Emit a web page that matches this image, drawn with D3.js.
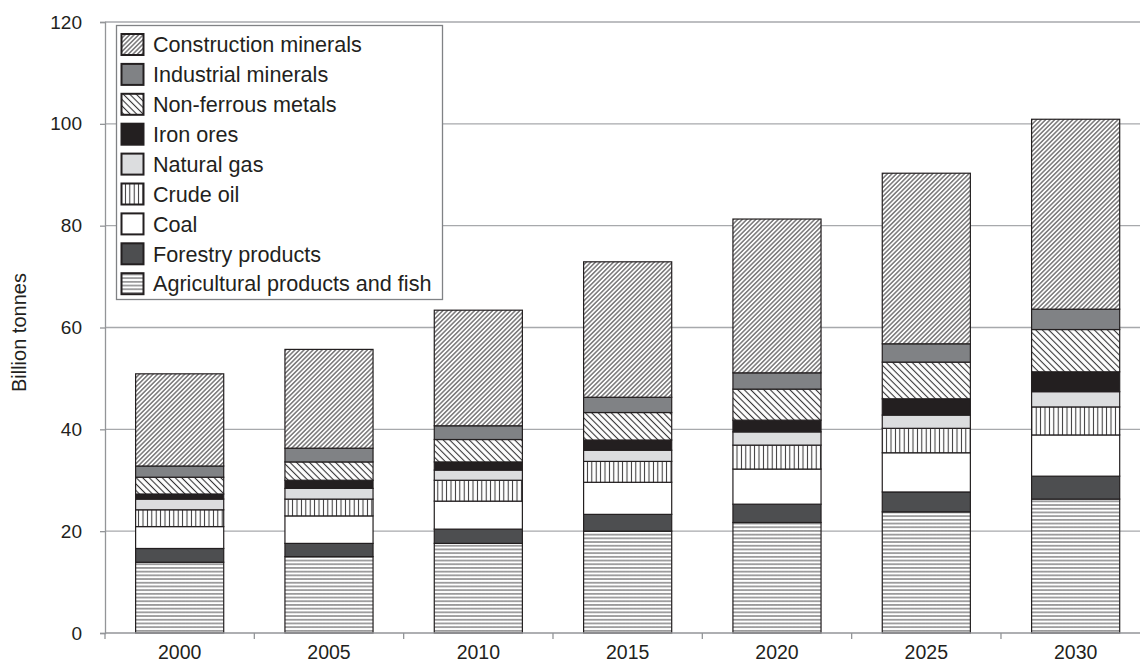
<!DOCTYPE html>
<html>
<head>
<meta charset="utf-8">
<script src="https://cdn.jsdelivr.net/npm/d3@7"></script>
<style>
  body { margin: 0; background: #fff; }
  text { font-family: "Liberation Sans", Arial, Helvetica, sans-serif; fill: #231f20; }
</style>
</head>
<body>
<svg id="chart" width="1140" height="664"></svg>
<script>
// ---- data ----
const years = ["2000", "2005", "2010", "2015", "2020", "2025", "2030"];
const seriesNames = [
  "Agricultural products and fish",
  "Forestry products",
  "Coal",
  "Crude oil",
  "Natural gas",
  "Iron ores",
  "Non-ferrous metals",
  "Industrial minerals",
  "Construction minerals"
];
const agri         = [13.9, 15.0, 17.6, 20.0, 21.7, 23.8, 26.3];
const forestry     = [2.7, 2.6, 2.8, 3.3, 3.6, 3.9, 4.5];
const coal         = [4.3, 5.4, 5.5, 6.3, 6.9, 7.7, 8.1];
const crudeOil     = [3.3, 3.3, 4.1, 4.1, 4.7, 4.8, 5.5];
const naturalGas   = [2.1, 2.1, 2.0, 2.2, 2.6, 2.6, 3.0];
const ironOres     = [1.0, 1.6, 1.6, 2.0, 2.3, 3.2, 3.9];
const nonFerrous   = [3.3, 3.6, 4.4, 5.4, 6.1, 7.2, 8.3];
const industrial   = [2.2, 2.7, 2.7, 3.0, 3.2, 3.6, 4.0];
const construction = [18.1, 19.4, 22.7, 26.6, 30.2, 33.5, 37.3];
const yTicks = [0, 20, 40, 60, 80, 100, 120];
const yLabel = "Billion tonnes";

const seriesValues = [agri, forestry, coal, crudeOil, naturalGas, ironOres, nonFerrous, industrial, construction];

// ---- build table ----
const table = years.map((y, i) => {
  const row = { year: y };
  seriesNames.forEach((s, k) => row[s] = seriesValues[k][i]);
  return row;
});
const stacked = d3.stack().keys(seriesNames)(table);

// ---- fills ----
const fills = {
  "Agricultural products and fish": "url(#pHoriz)",
  "Forestry products": "#4d4e50",
  "Coal": "#ffffff",
  "Crude oil": "url(#pVert)",
  "Natural gas": "#dcdddf",
  "Iron ores": "#231f20",
  "Non-ferrous metals": "url(#pBack)",
  "Industrial minerals": "#808285",
  "Construction minerals": "url(#pFwd)"
};

const svg = d3.select("#chart");
const defs = svg.append("defs");

function linePattern(id, size, rotate, color, sw) {
  const p = defs.append("pattern")
    .attr("id", id).attr("patternUnits", "userSpaceOnUse")
    .attr("width", size).attr("height", size)
    .attr("patternTransform", `rotate(${rotate})`);
  p.append("rect").attr("width", size).attr("height", size).attr("fill", "#fff");
  p.append("line").attr("x1", size / 2).attr("y1", 0).attr("x2", size / 2).attr("y2", size)
    .attr("stroke", color).attr("stroke-width", sw);
}
linePattern("pFwd", 3.2, 45, "#333234", 1.0);
linePattern("pBack", 4.6, -45, "#333234", 1.1);
linePattern("pVert", 4.4, 0, "#333234", 1.0);
linePattern("pHoriz", 3.7, 90, "#333234", 0.9);

// ---- scales ----
const x = d3.scaleBand().domain(years).range([105, 105 + 7 * 149.33])
  .paddingInner(0.41).paddingOuter(0.205);
const y = d3.scaleLinear().domain([0, 120]).range([633, 22]);

// gridlines
svg.append("g").selectAll("line").data(yTicks.filter(d => d > 0)).join("line")
  .attr("x1", 105).attr("x2", 1140)
  .attr("y1", d => y(d)).attr("y2", d => y(d))
  .attr("stroke", "#a7a9ac").attr("stroke-width", 1.3);

// y axis
const yAxis = svg.append("g").attr("transform", "translate(105,0)")
  .call(d3.axisLeft(y).tickValues(yTicks).tickSize(5).tickPadding(18));
yAxis.select(".domain").attr("stroke", "#939598").attr("stroke-width", 1.3);
yAxis.selectAll(".tick line").attr("stroke", "#939598").attr("stroke-width", 1.3);
yAxis.selectAll(".tick text").style("font-size", "19px").style("font-family", "Liberation Sans, Arial, sans-serif").attr("fill", "#231f20");

// bars
const step = x.step();
svg.append("g").selectAll("g").data(stacked).join("g")
  .attr("fill", d => fills[d.key])
  .selectAll("rect").data(d => d).join("rect")
  .attr("x", d => x(d.data.year))
  .attr("width", x.bandwidth())
  .attr("y", d => y(d[1]))
  .attr("height", d => y(d[0]) - y(d[1]))
  .attr("stroke", "#231f20").attr("stroke-width", 1.2);

// x axis
const xAxisG = svg.append("g").attr("transform", "translate(0,633)");
xAxisG.append("line").attr("x1", 105).attr("x2", 1140).attr("y1", 0).attr("y2", 0)
  .attr("stroke", "#939598").attr("stroke-width", 1.3);
xAxisG.selectAll("line.bt").data(years).join("line").attr("class", "bt")
  .attr("x1", d => x(d) - (step - x.bandwidth()) / 2)
  .attr("x2", d => x(d) - (step - x.bandwidth()) / 2)
  .attr("y1", 0).attr("y2", 6)
  .attr("stroke", "#939598").attr("stroke-width", 1.3);
xAxisG.selectAll("text").data(years).join("text")
  .attr("x", d => x(d) + x.bandwidth() / 2)
  .attr("y", 26)
  .attr("text-anchor", "middle")
  .style("font-size", "19.5px")
  .text(d => d);

// y label
svg.append("text")
  .attr("transform", `translate(26,${y(59)}) rotate(-90)`)
  .attr("text-anchor", "middle")
  .style("font-size", "20px")
  .text(yLabel);

// legend
const legendOrder = seriesNames.slice().reverse();
const lg = svg.append("g");
lg.append("rect").attr("x", 116.5).attr("y", 25.5).attr("width", 326).attr("height", 274)
  .attr("fill", "#fff").attr("stroke", "#808285").attr("stroke-width", 1.3);
const items = lg.selectAll("g.item").data(legendOrder).join("g").attr("class", "item")
  .attr("transform", (d, i) => `translate(0,${44.5 + i * 29.9})`);
items.append("rect")
  .attr("x", 121.5).attr("y", -10.5).attr("width", 22).attr("height", 21)
  .attr("fill", d => fills[d]).attr("stroke", "#231f20").attr("stroke-width", 2);
items.append("text")
  .attr("x", 153).attr("y", 0).attr("dy", "0.36em")
  .style("font-size", "21.6px")
  .text(d => d);
</script>
</body>
</html>
